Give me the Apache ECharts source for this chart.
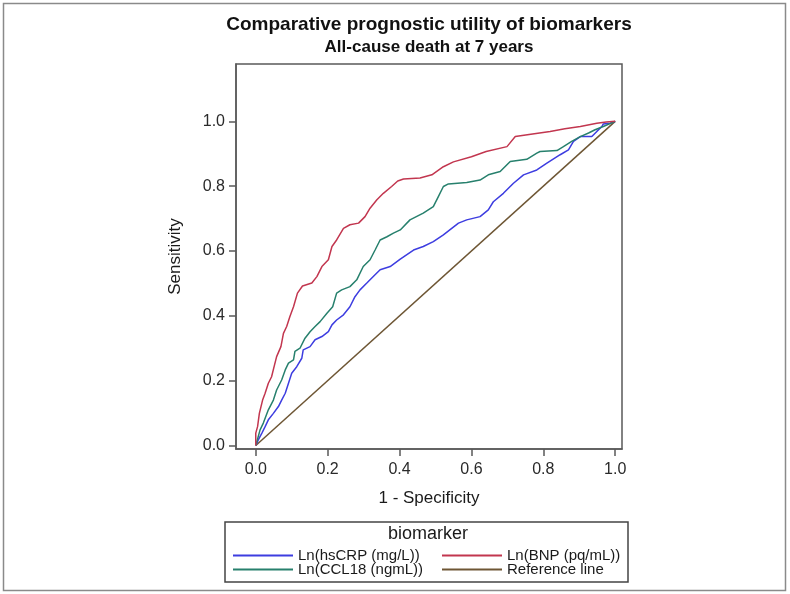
<!DOCTYPE html>
<html>
<head>
<meta charset="utf-8">
<script src="https://cdn.jsdelivr.net/npm/echarts@6/dist/echarts.min.js"></script>
<style>
  html, body { margin: 0; padding: 0; background: #fff; }
  #chart { width: 790px; height: 594px; }
</style>
</head>
<body>
<div id="chart"></div>
<script>
  // ROC curves (x = 1 - specificity, y = sensitivity)
  var crpX = [0, 0.007, 0.017, 0.026, 0.035, 0.049, 0.063, 0.072, 0.082, 0.091, 0.100, 0.114, 0.128, 0.132, 0.151, 0.165, 0.184, 0.202, 0.212, 0.225, 0.244, 0.262, 0.276, 0.290, 0.309, 0.327, 0.346, 0.374, 0.402, 0.439, 0.466, 0.494, 0.522, 0.564, 0.587, 0.624, 0.647, 0.661, 0.689, 0.717, 0.745, 0.782, 0.810, 0.847, 0.870, 0.884, 0.903, 0.935, 0.949, 0.963, 0.967, 0.986, 1];
  var crpY = [0, 0.017, 0.038, 0.058, 0.079, 0.099, 0.120, 0.140, 0.161, 0.192, 0.223, 0.243, 0.269, 0.295, 0.305, 0.326, 0.336, 0.351, 0.372, 0.387, 0.403, 0.428, 0.459, 0.480, 0.501, 0.521, 0.542, 0.552, 0.575, 0.603, 0.614, 0.629, 0.650, 0.686, 0.696, 0.706, 0.727, 0.752, 0.778, 0.809, 0.835, 0.850, 0.871, 0.897, 0.912, 0.938, 0.953, 0.953, 0.969, 0.984, 0.992, 0.994, 1];

  var bnpX = [0, 0, 0.005, 0.010, 0.019, 0.026, 0.035, 0.044, 0.051, 0.058, 0.070, 0.077, 0.086, 0.095, 0.105, 0.116, 0.130, 0.156, 0.170, 0.184, 0.202, 0.212, 0.225, 0.244, 0.262, 0.286, 0.304, 0.318, 0.337, 0.355, 0.378, 0.395, 0.411, 0.457, 0.490, 0.522, 0.550, 0.600, 0.641, 0.699, 0.722, 0.775, 0.819, 0.860, 0.903, 0.949, 0.975, 1];
  var bnpY = [0, 0.038, 0.058, 0.099, 0.140, 0.161, 0.192, 0.212, 0.243, 0.274, 0.305, 0.346, 0.367, 0.398, 0.428, 0.470, 0.492, 0.501, 0.521, 0.552, 0.573, 0.614, 0.634, 0.670, 0.681, 0.686, 0.706, 0.732, 0.758, 0.778, 0.799, 0.816, 0.822, 0.825, 0.835, 0.860, 0.875, 0.891, 0.907, 0.922, 0.953, 0.962, 0.969, 0.977, 0.984, 0.994, 0.998, 1];

  var cclX = [0, 0.012, 0.021, 0.035, 0.049, 0.058, 0.072, 0.082, 0.091, 0.105, 0.109, 0.123, 0.137, 0.151, 0.165, 0.179, 0.198, 0.214, 0.225, 0.239, 0.262, 0.281, 0.299, 0.318, 0.332, 0.346, 0.365, 0.383, 0.402, 0.429, 0.466, 0.494, 0.508, 0.522, 0.536, 0.587, 0.624, 0.647, 0.680, 0.708, 0.754, 0.782, 0.791, 0.838, 0.856, 0.879, 0.903, 0.926, 0.944, 0.967, 1];
  var cclY = [0, 0.048, 0.069, 0.110, 0.140, 0.171, 0.202, 0.233, 0.254, 0.264, 0.290, 0.300, 0.331, 0.351, 0.367, 0.382, 0.408, 0.428, 0.470, 0.480, 0.490, 0.511, 0.552, 0.573, 0.603, 0.634, 0.644, 0.655, 0.665, 0.696, 0.717, 0.737, 0.768, 0.799, 0.807, 0.811, 0.819, 0.835, 0.845, 0.876, 0.883, 0.902, 0.907, 0.910, 0.922, 0.938, 0.953, 0.964, 0.974, 0.984, 1];

  var refX = [0, 1];
  var refY = [0, 1];

  var tickValues = [0, 0.2, 0.4, 0.6, 0.8, 1.0];
  var names = ['Ln(hsCRP (mg/L))', 'Ln(BNP (pq/mL))', 'Ln(CCL18 (ngmL))', 'Reference line'];
  var colors = ['#3d3de0', '#c2364f', '#27806d', '#6e5634'];

  function zip(xs, ys) {
    return xs.map(function (x, i) { return [x, ys[i]]; });
  }

  var chart = echarts.init(document.getElementById('chart'));

  var font = 'Liberation Sans, Arial, sans-serif';

  var axisCommon = {
    type: 'value',
    splitLine: { show: false },
    axisLine: { show: true, onZero: false, lineStyle: { color: '#5a5a5a', width: 1.5 } },
    axisTick: { show: true, length: 7, customValues: tickValues, lineStyle: { color: '#5a5a5a', width: 1.5 } },
    axisLabel: {
      customValues: tickValues,
      color: '#2a2a2a',
      fontFamily: font,
      fontSize: 16,
      formatter: function (v) { return v.toFixed(1); }
    },
    nameLocation: 'middle',
    nameTextStyle: { color: '#1a1a1a', fontFamily: font, fontSize: 17 }
  };

  // one legend per entry so the two rows sit as tight as in the figure
  var legendPos = [[232, 548], [441, 548], [232, 562], [441, 562]];
  var legends = names.map(function (n, i) {
    return {
      data: [n], left: legendPos[i][0], top: legendPos[i][1], padding: 0,
      itemWidth: 60, itemHeight: 13, itemStyle: { opacity: 0 },
      textStyle: { color: '#1a1a1a', fontFamily: font, fontSize: 15 }
    };
  });

  var option = {
    backgroundColor: '#fff',
    animation: false,
    title: [
      {
        text: 'Comparative prognostic utility of biomarkers',
        left: 429, top: 15, textAlign: 'center', padding: 0,
        textStyle: { color: '#111', fontFamily: font, fontSize: 19, fontWeight: 'bold' }
      },
      {
        text: 'All-cause death at 7 years',
        left: 429, top: 39, textAlign: 'center', padding: 0,
        textStyle: { color: '#111', fontFamily: font, fontSize: 17, fontWeight: 'bold' }
      }
    ],
    grid: {
      left: 236, right: 168, top: 64, bottom: 145,
      show: true, borderColor: '#5a5a5a', borderWidth: 1.5, backgroundColor: '#fff'
    },
    xAxis: Object.assign({}, axisCommon, {
      min: -0.055, max: 1.019,
      name: '1 - Specificity', nameGap: 41,
      axisLabel: Object.assign({}, axisCommon.axisLabel, { margin: 13 })
    }),
    yAxis: Object.assign({}, axisCommon, {
      min: -0.011, max: 1.177,
      name: 'Sensitivity', nameGap: 52,
      axisLabel: Object.assign({}, axisCommon.axisLabel, { margin: 11 })
    }),
    legend: legends,
    graphic: [
      {
        type: 'rect', silent: true,
        shape: { x: 3.5, y: 3.5, width: 782, height: 587 },
        style: { fill: 'none', stroke: '#8a8a8a', lineWidth: 1.5 }
      },
      {
        type: 'rect', silent: true,
        shape: { x: 225, y: 522, width: 403, height: 60 },
        style: { fill: 'none', stroke: '#444', lineWidth: 1.5 }
      },
      {
        type: 'text', silent: true, x: 428, y: 534,
        style: {
          text: 'biomarker', fill: '#1a1a1a', align: 'center', verticalAlign: 'middle',
          font: '18px "Liberation Sans", Arial, sans-serif'
        }
      }
    ],
    series: [
      { name: names[3], type: 'line', data: zip(refX, refY), symbol: 'none', lineStyle: { color: colors[3], width: 1.5 }, itemStyle: { color: colors[3] } },
      { name: names[0], type: 'line', data: zip(crpX, crpY), symbol: 'none', lineStyle: { color: colors[0], width: 1.5 }, itemStyle: { color: colors[0] } },
      { name: names[2], type: 'line', data: zip(cclX, cclY), symbol: 'none', lineStyle: { color: colors[2], width: 1.5 }, itemStyle: { color: colors[2] } },
      { name: names[1], type: 'line', data: zip(bnpX, bnpY), symbol: 'none', lineStyle: { color: colors[1], width: 1.5 }, itemStyle: { color: colors[1] } }
    ]
  };

  chart.setOption(option);
</script>
</body>
</html>
